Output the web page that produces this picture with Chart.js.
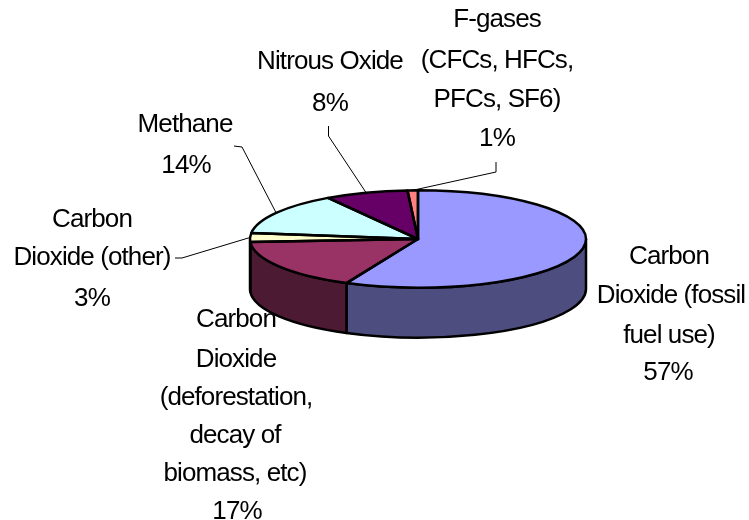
<!DOCTYPE html>
<html>
<head>
<meta charset="utf-8">
<style>
  html, body { margin: 0; padding: 0; background: #fff; }
  canvas { display: block; }
</style>
<script src="https://cdn.jsdelivr.net/npm/chart.js@4"></script>
</head>
<body>
<canvas id="pie" width="749" height="520"></canvas>
<script>
const categories = ['Carbon Dioxide (fossil fuel use)', 'Carbon Dioxide (deforestation, decay of biomass, etc)', 'Carbon Dioxide (other)', 'Methane', 'Nitrous Oxide', 'F-gases (CFCs, HFCs, PFCs, SF6)'];
const shares = [57, 17, 3, 14, 8, 1];
const topColors = ['#9999ff', '#993366', '#ffffcc', '#ccffff', '#660066', '#ff8080'];
const sideColors = ['#4d4d80', '#4d1a33', '#808066', '#668080', '#330033', '#804040'];
const labelLines = [
    ['Carbon', 'Dioxide (fossil', 'fuel use)'],
    ['Carbon', 'Dioxide', '(deforestation,', 'decay of', 'biomass, etc)'],
    ['Carbon', 'Dioxide (other)'],
    ['Methane'],
    ['Nitrous Oxide'],
    ['F-gases', '(CFCs, HFCs,', 'PFCs, SF6)']
];

// where each label sits: centre x per line, middle y per line
const labelPos = [
    { x: [669, 671, 669, 668], y: [257, 296, 336, 373] },
    { x: [236, 236, 236, 235, 235, 237], y: [320, 360, 398, 436, 474, 512] },
    { x: [92, 92, 92], y: [220, 258, 299] },
    { x: [185, 186], y: [125, 166] },
    { x: [330, 330], y: [62, 104] },
    { x: [497, 497, 497, 497], y: [20, 61, 100, 139] }
];
// leader elbows, the last point comes from the slice itself
const leaders = {
    2: [[175, 258], [182, 258]],
    3: [[234, 146], [242, 147]],
    4: [[328.5, 126], [328.5, 136]],
    5: [[496, 162], [496, 172]]
};

const SQUASH = 0.29;
const DEPTH = 50;

const tiltPlugin = {
    id: 'tilt',
    beforeDatasetsDraw(chart) {
        const ctx = chart.ctx;
        const arcs = chart.getDatasetMeta(0).data;
        ctx.lineWidth = 2.5;
        ctx.strokeStyle = '#000';
        ctx.lineJoin = 'round';
        // front wall of the disc
        arcs.forEach((a, i) => {
            const from = Math.max(a.startAngle, 0);
            const to = Math.min(a.endAngle, Math.PI);
            if (to <= from) return;
            const r = a.outerRadius;
            ctx.beginPath();
            ctx.ellipse(a.x, a.y, r, r * SQUASH, 0, from, to);
            ctx.lineTo(a.x + r * Math.cos(to), a.y + r * SQUASH * Math.sin(to) + DEPTH);
            ctx.ellipse(a.x, a.y + DEPTH, r, r * SQUASH, 0, to, from, true);
            ctx.closePath();
            ctx.fillStyle = sideColors[i];
            ctx.fill();
            ctx.stroke();
        });
        const first = arcs[0];
        ctx.save();
        ctx.translate(0, first.y);
        ctx.scale(1, SQUASH);
        ctx.translate(0, -first.y);
    },
    afterDatasetsDraw(chart) {
        const ctx = chart.ctx;
        ctx.restore();
        const arcs = chart.getDatasetMeta(0).data;
        ctx.lineWidth = 2.5;
        ctx.strokeStyle = '#000';
        ctx.lineJoin = 'round';
        arcs.forEach(a => {
            const r = a.outerRadius;
            ctx.beginPath();
            ctx.moveTo(a.x, a.y);
            ctx.ellipse(a.x, a.y, r, r * SQUASH, 0, a.startAngle, a.endAngle);
            ctx.closePath();
            ctx.stroke();
        });

        // leader lines
        ctx.lineWidth = 1;
        Object.keys(leaders).forEach(k => {
            const a = arcs[k];
            const mid = (a.startAngle + a.endAngle) / 2;
            ctx.beginPath();
            leaders[k].forEach((p, n) => n ? ctx.lineTo(p[0], p[1]) : ctx.moveTo(p[0], p[1]));
            ctx.lineTo(a.x + a.outerRadius * Math.cos(mid), a.y + a.outerRadius * SQUASH * Math.sin(mid));
            ctx.stroke();
        });

        // labels
        ctx.fillStyle = '#000';
        ctx.font = '26px "Liberation Sans"';
        ctx.letterSpacing = '-0.9px';
        ctx.textAlign = 'center';
        ctx.textBaseline = 'middle';
        labelLines.forEach((lines, i) => {
            const pos = labelPos[i];
            lines.concat(shares[i] + '%').forEach((t, n) => ctx.fillText(t, pos.x[n], pos.y[n]));
        });
    }
};

new Chart(document.getElementById('pie'), {
    type: 'pie',
    data: {
        labels: categories,
        datasets: [{
            data: shares,
            backgroundColor: topColors,
            borderWidth: 0,
            radius: 168
        }]
    },
    options: {
        responsive: false,
        animation: false,
        events: [],
        layout: { padding: { left: 87, bottom: 42 } },
        plugins: { legend: { display: false }, tooltip: { enabled: false } }
    },
    plugins: [tiltPlugin]
});
</script>
</body>
</html>
